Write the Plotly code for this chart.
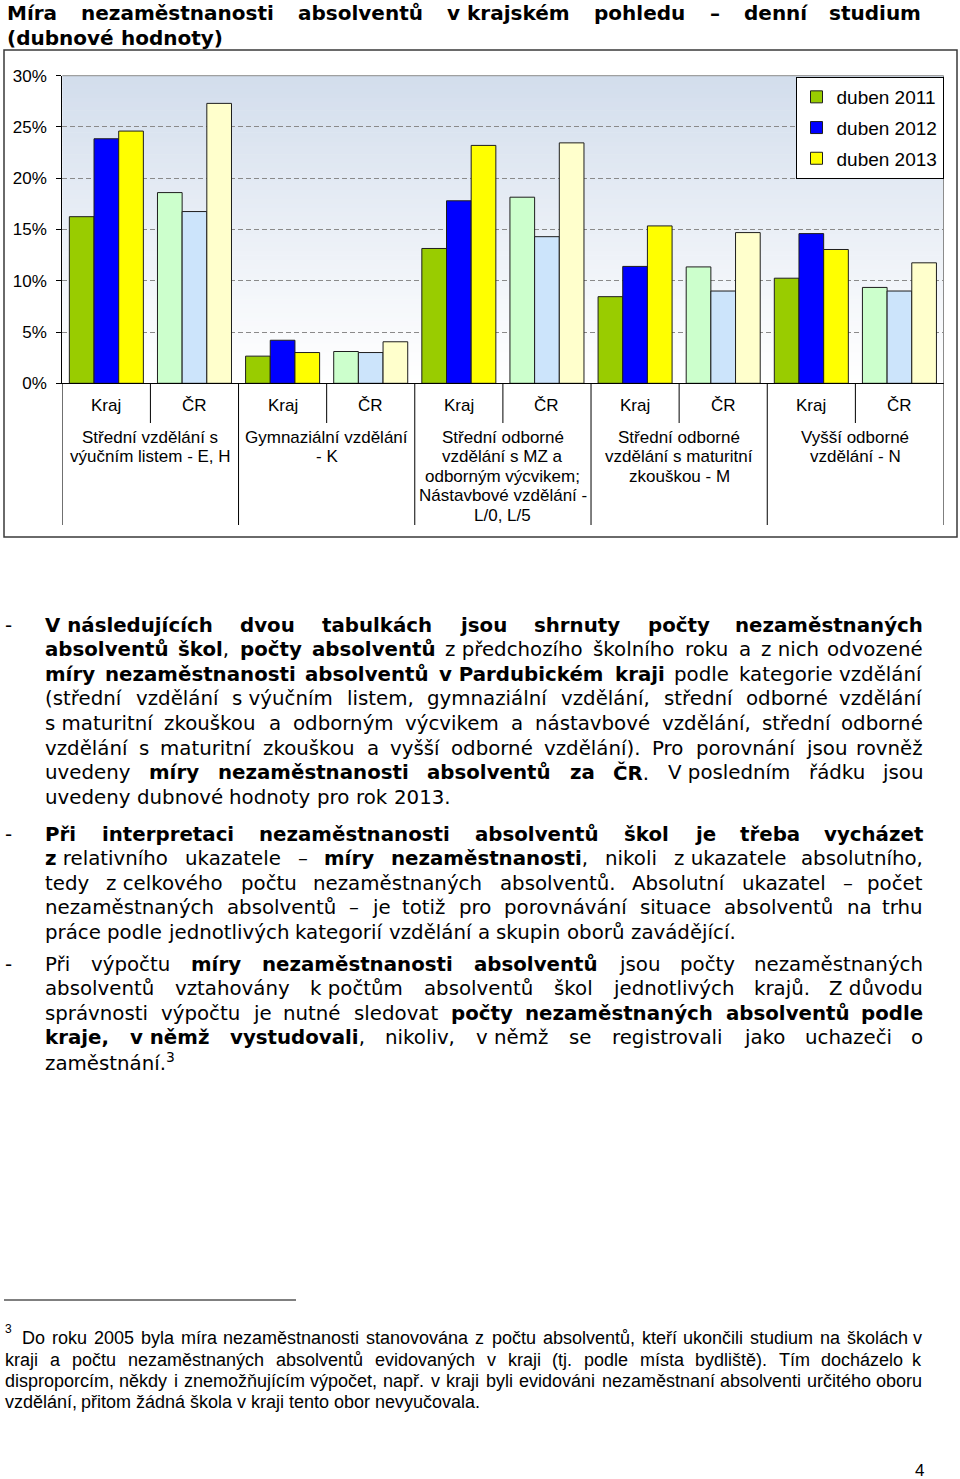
import unicodedata
import plotly.graph_objects as go

W, H = 960, 1479

# ---------------- chart data ----------------
subcats = ["Kraj", "ČR", "Kraj", "ČR", "Kraj", "ČR", "Kraj", "ČR", "Kraj", "ČR"]
group_labels = [
    ["Střední vzdělání s", "výučním listem - E, H"],
    ["Gymnaziální vzdělání", "- K"],
    ["Střední odborné", "vzdělání s MZ a", "odborným výcvikem;", "Nástavbové vzdělání -", "L/0, L/5"],
    ["Střední odborné", "vzdělání s maturitní", "zkouškou - M"],
    ["Vyšší odborné", "vzdělání - N"],
]
series_names = ["duben 2011", "duben 2012", "duben 2013"]
duben_2011 = [16.25, 18.6, 2.65, 3.1, 13.15, 18.15, 8.45, 11.35, 10.25, 9.35]
duben_2012 = [23.85, 16.75, 4.2, 3.0, 17.8, 14.3, 11.4, 9.0, 14.6, 9.0]
duben_2013 = [24.6, 27.3, 3.0, 4.05, 23.2, 23.45, 15.35, 14.7, 13.05, 11.75]
y_ticks = [0, 5, 10, 15, 20, 25, 30]
y_tick_labels = [f"{v}%" for v in y_ticks]

kraj_colors = ["#99cc00", "#0000ff", "#ffff00"]
cr_colors = ["#ccffcc", "#cce4fb", "#ffffcc"]

# ---------------- page text ----------------
title_lines = [
    "*Míra nezaměstnanosti absolventů v~krajském pohledu – denní studium*",
    "*(dubnové hodnoty)*",
]
paragraphs = [
    [
        "*V~následujících dvou tabulkách jsou shrnuty počty nezaměstnaných*",
        "*absolventů škol*, *počty absolventů* z~předchozího školního roku a z~nich odvozené",
        "*míry nezaměstnanosti absolventů v~Pardubickém kraji* podle kategorie vzdělání",
        "(střední vzdělání s~výučním listem, gymnaziální vzdělání, střední odborné vzdělání",
        "s~maturitní zkouškou a odborným výcvikem a nástavbové vzdělání, střední odborné",
        "vzdělání s maturitní zkouškou a vyšší odborné vzdělání). Pro porovnání jsou rovněž",
        "uvedeny *míry nezaměstnanosti absolventů za ČR*. V~posledním řádku jsou",
        "uvedeny dubnové hodnoty pro rok 2013.",
    ],
    [
        "*Při interpretaci nezaměstnanosti absolventů škol je třeba vycházet*",
        "*z*~relativního ukazatele – *míry nezaměstnanosti*, nikoli z~ukazatele absolutního,",
        "tedy z~celkového počtu nezaměstnaných absolventů. Absolutní ukazatel – počet",
        "nezaměstnaných absolventů – je totiž pro porovnávání situace absolventů na trhu",
        "práce podle jednotlivých kategorií vzdělání a skupin oborů zavádějící.",
    ],
    [
        "Při výpočtu *míry nezaměstnanosti absolventů* jsou počty nezaměstnaných",
        "absolventů vztahovány k~počtům absolventů škol jednotlivých krajů. Z~důvodu",
        "správnosti výpočtu je nutné sledovat *počty nezaměstnaných absolventů podle*",
        "*kraje, v~němž vystudovali*, nikoliv, v~němž se registrovali jako uchazeči o",
        "zaměstnání.<sup>3</sup>",
    ],
]
paragraph_top = [625, 834, 964]
footnote_lines = [
    "Do roku 2005 byla míra nezaměstnanosti stanovována z počtu absolventů, kteří ukončili studium na školách v",
    "kraji a počtu nezaměstnaných absolventů evidovaných v kraji (tj. podle místa bydliště). Tím docházelo k",
    "disproporcím, někdy i znemožňujícím výpočet, např. v kraji byli evidováni nezaměstnaní absolventi určitého oboru",
    "vzdělání, přitom žádná škola v kraji tento obor nevyučovala.",
]
footnote_y = [1338, 1359.5, 1381, 1402]


def fx(px):
    return px / W


def fy(py):
    return 1 - py / H


# ---------------- font metrics (units / 2048) ----------------
LOW = "abcdefghijklmnopqrstuvwxyz"
UP = "ABCDEFGHIJKLMNOPQRSTUVWXYZ"


def make_table(lower, upper, digit, punct):
    t = dict(zip(LOW, lower))
    t.update(zip(UP, upper))
    t.update({d: digit for d in "0123456789"})
    t.update(punct)
    return t


DV_REG = make_table(
    [1255, 1300, 1126, 1300, 1260, 721, 1300, 1298, 569, 569, 1186, 569, 1995, 1298, 1253, 1300, 1300, 842, 1067, 803, 1298, 1212, 1675, 1212, 1212, 1075],
    [1401, 1405, 1430, 1577, 1294, 1178, 1587, 1540, 604, 604, 1343, 1141, 1767, 1532, 1612, 1235, 1612, 1423, 1300, 1251, 1499, 1401, 2025, 1403, 1251, 1403],
    1303,
    {" ": 651, "(": 799, ")": 799, ",": 651, "-": 739, ".": 651, ":": 690, ";": 690, "–": 1024, "/": 690},
)
DV_BOLD = make_table(
    [1382, 1466, 1214, 1466, 1389, 891, 1466, 1462, 702, 702, 1393, 702, 2134, 1462, 1407, 1466, 1466, 1011, 1219, 979, 1462, 1325, 1774, 1311, 1325, 1219],
    [1577, 1559, 1497, 1686, 1393, 1393, 1677, 1710, 762, 762, 1599, 1331, 2015, 1710, 1730, 1536, 1730, 1591, 1470, 1399, 1663, 1577, 2279, 1575, 1483, 1486],
    1425,
    {" ": 713, "(": 934, ")": 934, ",": 760, "-": 852, ".": 780, ":": 819, ";": 819, "–": 1024, "/": 729},
)
ARIAL = make_table(
    [1139, 1139, 1024, 1139, 1139, 569, 1139, 1139, 455, 455, 1024, 455, 1706, 1139, 1139, 1139, 1139, 682, 1024, 569, 1139, 1024, 1479, 1024, 1024, 1024],
    [1366, 1366, 1479, 1479, 1366, 1251, 1593, 1479, 569, 1024, 1366, 1139, 1706, 1479, 1593, 1366, 1593, 1479, 1366, 1251, 1479, 1366, 1933, 1366, 1366, 1251],
    1139,
    {" ": 569, "(": 682, ")": 682, ",": 569, "-": 682, ".": 569, ":": 569, ";": 569, "–": 1139, "/": 569},
)


def base_char(ch):
    if ch in ("~", "\u00a0"):
        return " "
    return unicodedata.normalize("NFD", ch)[0]


def parse_words(line):
    words, cur, bold = [], [], False
    for ch in line:
        if ch == "*":
            bold = not bold
            continue
        if ch == " ":
            if cur:
                words.append(cur)
                cur = []
            continue
        cur.append((" " if ch == "~" else ch, bold))
    if cur:
        words.append(cur)
    return words


def word_width(word, reg, bold, size):
    return sum((bold if b else reg).get(base_char(c), 1200) for c, b in word) / 2048 * size


def word_html(word):
    out, run, rb = [], "", None
    for c, b in word:
        if rb is None or b == rb:
            run += c
        else:
            out.append(f"<b>{run}</b>" if rb else run)
            run = c
        rb = b
    if run:
        out.append(f"<b>{run}</b>" if rb else run)
    return "".join(out)


fig = go.Figure()

# ---------------- bars ----------------
xpos = list(range(len(subcats)))
for name, vals, kc, cc in zip(series_names, [duben_2011, duben_2012, duben_2013], kraj_colors, cr_colors):
    colors = [kc if s == "Kraj" else cc for s in subcats]
    fig.add_trace(go.Bar(
        x=xpos, y=vals, name=name, legendgroup=name,
        marker=dict(color=colors, line=dict(color="#1e1e1e", width=1)),
        hoverinfo="skip",
    ))

PX_L, PX_R, PX_T, PX_B = 62.3, 943.5, 75.7, 383.3
chart_font = "Liberation Sans, Arial, sans-serif"
text_font = "DejaVu Sans, Verdana, sans-serif"

shapes = []
# gradient background of plot area
N = 70
top = (210, 221, 236)
for k in range(N):
    t = ((k + 0.5) / N) ** 1.1
    col = tuple(round(255 + (c - 255) * t) for c in top)
    shapes.append(dict(type="rect", xref="x domain", yref="y domain", x0=0, x1=1,
                       y0=k / N, y1=min(1, (k + 1) / N + 0.002), fillcolor="rgb(%d,%d,%d)" % col,
                       line=dict(width=0), layer="below"))
# plot area top and right border
shapes.append(dict(type="line", xref="x domain", yref="y domain", x0=0, x1=1, y0=1, y1=1,
                   line=dict(color="#8c8c8c", width=1)))
shapes.append(dict(type="line", xref="x domain", yref="y domain", x0=1, x1=1, y0=0, y1=1,
                   line=dict(color="#8c8c8c", width=1)))
# category separators below the axis
for i in range(len(subcats) + 1):
    long_line = i % 2 == 0
    shapes.append(dict(type="line", xref="x", yref="paper", x0=i - 0.5, x1=i - 0.5,
                       y0=fy(PX_B), y1=fy(525 if long_line else 423),
                       line=dict(color="black", width=1)))
# outer chart frame
shapes.append(dict(type="rect", xref="paper", yref="paper", x0=fx(4), x1=fx(957),
                   y0=fy(537), y1=fy(50), line=dict(color="#3a3a3a", width=1.5)))
# footnote rule
shapes.append(dict(type="line", xref="paper", yref="paper", x0=fx(4), x1=fx(296),
                   y0=fy(1300), y1=fy(1300), line=dict(color="black", width=1)))

annotations = []
# Kraj / ČR labels
for i, s in enumerate(subcats):
    annotations.append(dict(x=i, y=fy(405), xref="x", yref="paper", text=s, showarrow=False,
                            xanchor="center", yanchor="middle",
                            font=dict(family=chart_font, size=17, color="black")))
# group labels
for g, lines in enumerate(group_labels):
    for j, ln in enumerate(lines):
        annotations.append(dict(x=2 * g + 0.5, y=fy(437 + 19.5 * j), xref="x", yref="paper",
                                text=ln, showarrow=False, xanchor="center", yanchor="middle",
                                font=dict(family=chart_font, size=17, color="black")))


def add_line(line, x0, x1, yc, size, family, reg, bold, justify):
    words = parse_words(line)
    widths = [word_width(w, reg, bold, size) for w in words]
    n = len(words)
    space = reg[" "] / 2048 * size
    gap = (x1 - x0 - sum(widths)) / (n - 1) if (justify and n > 1) else space
    x = x0
    for i, (w, wd) in enumerate(zip(words, widths)):
        last = justify and n > 1 and i == n - 1
        annotations.append(dict(
            x=fx(x1 if last else x), y=fy(yc), xref="paper", yref="paper",
            text=word_html(w), showarrow=False,
            xanchor="right" if last else "left", yanchor="middle", borderpad=0,
            font=dict(family=family, size=size, color="black")))
        x += wd + gap


# title
add_line(title_lines[0], 6, 922, 13.5, 20, text_font, DV_BOLD, DV_BOLD, True)
add_line(title_lines[1], 6, 922, 38, 20, text_font, DV_BOLD, DV_BOLD, False)

# body paragraphs
LS = 24.6
for para, y0 in zip(paragraphs, paragraph_top):
    annotations.append(dict(x=fx(4), y=fy(y0), xref="paper", yref="paper", text="-",
                            showarrow=False, xanchor="left", yanchor="middle", borderpad=0,
                            font=dict(family=text_font, size=19.8, color="black")))
    for k, ln in enumerate(para):
        add_line(ln, 44, 924, y0 + LS * k, 19.8, text_font, DV_REG, DV_BOLD, k < len(para) - 1)

# footnote
annotations.append(dict(x=fx(4), y=fy(1329), xref="paper", yref="paper", text="3",
                        showarrow=False, xanchor="left", yanchor="middle", borderpad=0,
                        font=dict(family=chart_font, size=12, color="black")))
for k, (ln, yc) in enumerate(zip(footnote_lines, footnote_y)):
    add_line(ln, 21 if k == 0 else 4, 923, yc, 18, chart_font, ARIAL, ARIAL,
             k < len(footnote_lines) - 1)

# page number
annotations.append(dict(x=fx(919), y=fy(1470), xref="paper", yref="paper", text="4",
                        showarrow=False, xanchor="center", yanchor="middle", borderpad=0,
                        font=dict(family=chart_font, size=17, color="black")))

fig.update_layout(
    width=W, height=H, autosize=False,
    margin=dict(l=0, r=0, t=0, b=0, pad=0, autoexpand=False),
    paper_bgcolor="white", plot_bgcolor="white",
    font=dict(family=chart_font, color="black"),
    barmode="group", bargap=0.16, bargroupgap=0,
    showlegend=True,
    legend=dict(x=fx(943.5), xanchor="right", y=fy(77), yanchor="top",
                bgcolor="white", bordercolor="black", borderwidth=1,
                font=dict(family=chart_font, size=19, color="black"),
                tracegroupgap=3, traceorder="grouped", itemwidth=30),
    xaxis=dict(domain=[fx(PX_L), fx(PX_R)], range=[-0.5, len(subcats) - 0.5],
               showticklabels=False, ticks="", showgrid=False, zeroline=False,
               showline=True, linecolor="black", linewidth=1, fixedrange=True,
               automargin=False),
    yaxis=dict(domain=[fy(PX_B), fy(PX_T)], range=[0, 30], tickvals=y_ticks,
               ticktext=y_tick_labels, ticks="outside", ticklen=5, tickcolor="black",
               ticklabelstandoff=6, automargin=False,
               tickfont=dict(family=chart_font, size=17, color="black"),
               showgrid=True, gridcolor="#8a8a8a", griddash="5px,3px", gridwidth=1,
               zeroline=False, showline=True, linecolor="black", linewidth=1,
               fixedrange=True),
    shapes=shapes,
    annotations=annotations,
)

post = (
    "document.documentElement.style.margin='0';"
    "document.body.style.margin='0';"
    "document.body.style.overflow='hidden';"
    "var d=document.getElementById('{plot_id}');"
    "d.style.position='absolute';d.style.left='0px';d.style.top='0px';"
)
fig.write_html("out.html", config={"displayModeBar": False}, post_script=post)
